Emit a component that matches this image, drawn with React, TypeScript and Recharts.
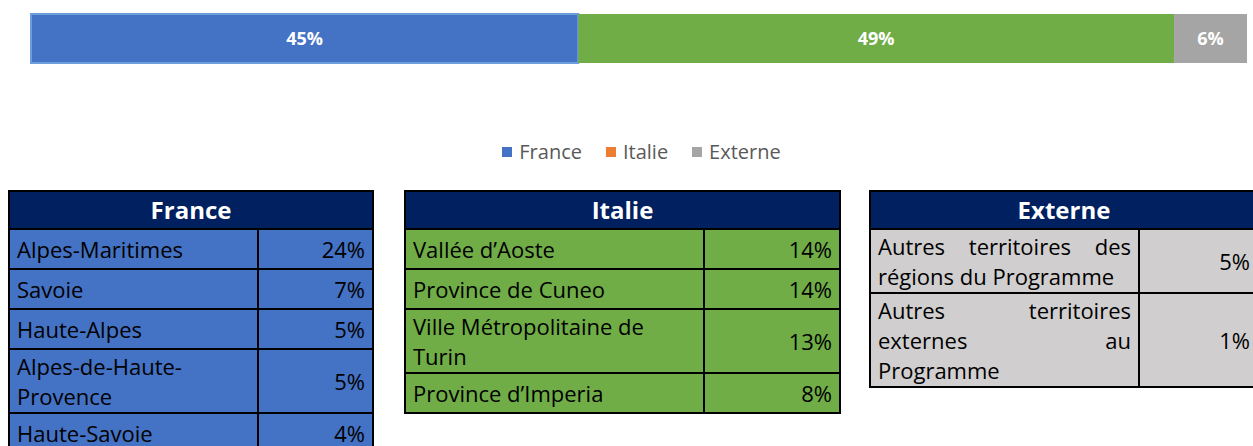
import React from "react";
import { Bar, BarChart, LabelList, Legend, XAxis, YAxis } from "recharts";

// Répartition globale (barre empilée à 100 %)
const SERIES = ["France", "Italie", "Externe"];
const SHARES = [45, 49, 6];

// Détail par territoire (les "\n" reprennent les retours à la ligne du tableau)
const FRANCE_LABELS = [
  "Alpes-Maritimes",
  "Savoie",
  "Haute-Alpes",
  "Alpes-de-Haute-\nProvence",
  "Haute-Savoie",
];
const FRANCE_VALUES = [24, 7, 5, 5, 4];

const ITALIE_LABELS = [
  "Vallée d’Aoste",
  "Province de Cuneo",
  "Ville Métropolitaine de\nTurin",
  "Province d’Imperia",
];
const ITALIE_VALUES = [14, 14, 13, 8];

const EXTERNE_LABELS = [
  "Autres territoires des\nrégions du Programme",
  "Autres territoires\nexternes au\nProgramme",
];
const EXTERNE_VALUES = [5, 1];

const BAR_COLORS = ["#4472C4", "#70AD47", "#A5A5A5"];
// la légende d'origine garde l'orange par défaut pour l'Italie
const LEGEND_COLORS = ["#4472C4", "#ED7D31", "#A5A5A5"];
const FONT = "'Open Sans', sans-serif";

const chartData = [
  SERIES.reduce<Record<string, string | number>>(
    (row, s, i) => ({ ...row, [s]: SHARES[i] }),
    { name: "Total" }
  ),
];

function LegendRow() {
  return (
    <div
      style={{
        display: "flex",
        justifyContent: "center",
        gap: 24,
        fontSize: 20,
        color: "#595959",
        fontFamily: FONT,
        lineHeight: "28px",
      }}
    >
      {SERIES.map((s, i) => (
        <span key={s} style={{ display: "flex", alignItems: "center" }}>
          <span
            style={{
              width: 10,
              height: 10,
              background: LEGEND_COLORS[i],
              marginRight: 7,
            }}
          />
          {s}
        </span>
      ))}
    </div>
  );
}

function RegionTable({
  title,
  labels,
  values,
  fill,
  left,
  width,
  col1,
  justify,
}: {
  title: string;
  labels: string[];
  values: number[];
  fill: string;
  left: number;
  width: number;
  col1: number;
  justify?: boolean;
}) {
  const cell: React.CSSProperties = {
    border: "2px solid #000",
    padding: "1px 7px",
    lineHeight: "30px",
    background: fill,
    verticalAlign: "middle",
  };
  return (
    <table
      style={{
        position: "absolute",
        left,
        top: 190,
        width,
        borderCollapse: "collapse",
        tableLayout: "fixed",
        fontFamily: FONT,
        fontSize: 22,
        color: "#000",
      }}
    >
      <colgroup>
        <col style={{ width: col1 }} />
        <col />
      </colgroup>
      <thead>
        <tr style={{ height: 38 }}>
          <th
            colSpan={2}
            style={{
              background: "#002060",
              color: "#fff",
              fontSize: 24,
              fontWeight: 700,
              border: "2px solid #000",
              padding: 0,
              lineHeight: "34px",
            }}
          >
            {title}
          </th>
        </tr>
      </thead>
      <tbody>
        {labels.map((label, i) => {
          const lines = label.split("\n");
          return (
            <tr key={label} style={{ height: 40 }}>
              <td style={{ ...cell, textAlign: "left" }}>
                {lines.map((ln, j) => (
                  <div
                    key={j}
                    style={{
                      whiteSpace: "nowrap",
                      textAlign: "left",
                      textAlignLast:
                        justify && j < lines.length - 1 ? "justify" : "left",
                    }}
                  >
                    {ln}
                  </div>
                ))}
              </td>
              <td style={{ ...cell, textAlign: "right" }}>{values[i]}%</td>
            </tr>
          );
        })}
      </tbody>
    </table>
  );
}

export default function App() {
  return (
    <div
      style={{
        position: "relative",
        width: 1253,
        height: 446,
        overflow: "hidden",
        background: "#fff",
        fontFamily: FONT,
      }}
    >
      <style>{"body{margin:0}"}</style>
      {/* bande un peu plus haute que la barre : sinon recharts réduit barSize de 10 % */}
      <BarChart
        width={1253}
        height={180}
        data={chartData}
        layout="vertical"
        margin={{ top: 13, right: 6, bottom: 116, left: 31 }}
        barCategoryGap={0}
      >
        <XAxis type="number" domain={[0, 100]} hide />
        <YAxis type="category" dataKey="name" hide />
        <Legend
          layout="horizontal"
          verticalAlign="middle"
          align="center"
          wrapperStyle={{ top: 138, left: 33, width: 1217 }}
          content={() => <LegendRow />}
        />
        {SERIES.map((s, i) => (
          <Bar
            key={s}
            dataKey={s}
            stackId="total"
            fill={BAR_COLORS[i]}
            stroke={i === 0 ? "#6E9DDB" : "none"}
            strokeWidth={2}
            barSize={49}
            isAnimationActive={false}
          >
            <LabelList
              dataKey={s}
              position="center"
              fill="#fff"
              fontSize={18}
              fontWeight={700}
              formatter={(v: number) => `${v}%`}
            />
          </Bar>
        ))}
      </BarChart>

      <RegionTable
        title="France"
        labels={FRANCE_LABELS}
        values={FRANCE_VALUES}
        fill="#4472C4"
        left={8}
        width={366}
        col1={249}
      />
      <RegionTable
        title="Italie"
        labels={ITALIE_LABELS}
        values={ITALIE_VALUES}
        fill="#70AD47"
        left={404}
        width={437}
        col1={299}
      />
      <RegionTable
        title="Externe"
        labels={EXTERNE_LABELS}
        values={EXTERNE_VALUES}
        fill="#D0CECE"
        left={869}
        width={390}
        col1={269}
        justify
      />
    </div>
  );
}
